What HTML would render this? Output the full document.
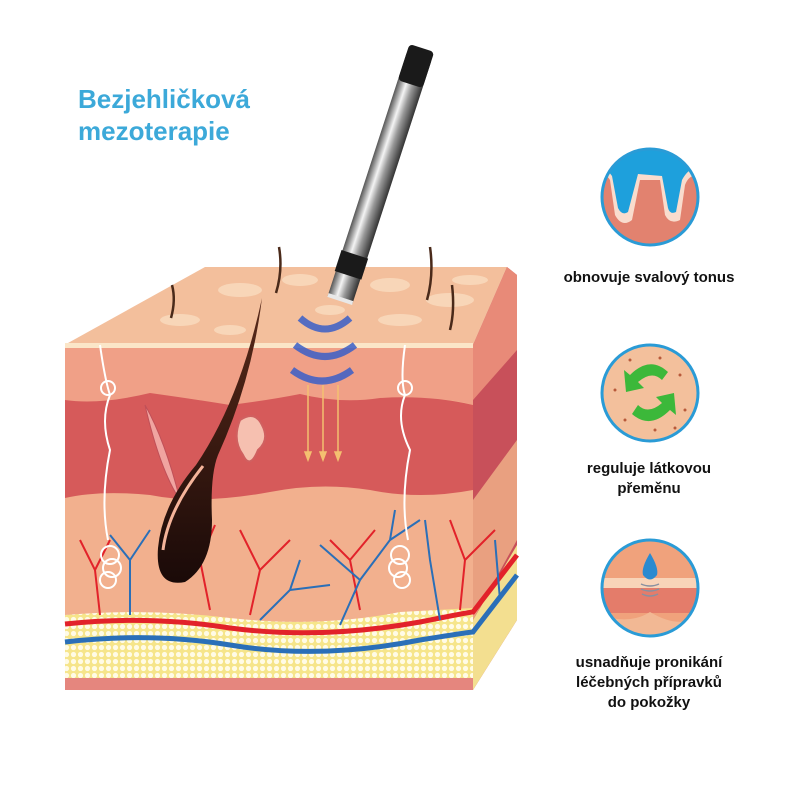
<!DOCTYPE html>
<html><head><meta charset="utf-8"><style>
html,body{margin:0;padding:0;background:#fff;width:800px;height:800px;overflow:hidden}
svg{display:block}
text{font-family:"Liberation Sans",sans-serif;font-weight:bold}
</style></head><body>
<svg width="800" height="800" viewBox="0 0 800 800" xmlns="http://www.w3.org/2000/svg">
<defs>
<pattern id="fat" width="7" height="7" patternUnits="userSpaceOnUse">
<rect width="7" height="7" fill="#f6e58a"/><circle cx="3.5" cy="3.5" r="2.6" fill="#fffbe6"/>
</pattern>
<linearGradient id="pen" x1="0" y1="0" x2="1" y2="0">
<stop offset="0" stop-color="#555"/><stop offset="0.35" stop-color="#f4f4f4"/><stop offset="0.6" stop-color="#999"/><stop offset="1" stop-color="#333"/>
</linearGradient>
<linearGradient id="hair" x1="0" y1="0" x2="0" y2="1">
<stop offset="0" stop-color="#5a2a1a"/><stop offset="1" stop-color="#1a0a08"/>
</linearGradient>
<clipPath id="c1"><circle cx="650" cy="197" r="47"/></clipPath>
<clipPath id="c2"><circle cx="650" cy="393" r="47"/></clipPath>
<clipPath id="c3"><circle cx="650" cy="588" r="47"/></clipPath>
</defs>

<text x="78" y="108" font-size="26" fill="#3ca9d9">Bezjehličková</text>
<text x="78" y="140" font-size="26" fill="#3ca9d9">mezoterapie</text>

<!-- top face -->
<polygon points="68,343 205,267 507,267 473,345" fill="#f3bf9c"/>
<g fill="#f8d6b8">
<ellipse cx="240" cy="290" rx="22" ry="7"/><ellipse cx="300" cy="280" rx="18" ry="6"/><ellipse cx="390" cy="285" rx="20" ry="7"/>
<ellipse cx="450" cy="300" rx="24" ry="7"/><ellipse cx="180" cy="320" rx="20" ry="6"/><ellipse cx="400" cy="320" rx="22" ry="6"/>
<ellipse cx="470" cy="280" rx="18" ry="5"/><ellipse cx="230" cy="330" rx="16" ry="5"/><ellipse cx="330" cy="310" rx="15" ry="5"/>
</g>
<!-- side face -->
<polygon points="473,345 507,267 517,275 517,620 473,690" fill="#c8505a"/>
<polygon points="473,345 507,267 517,275 517,350 473,400" fill="#e88a78"/>
<polygon points="473,500 517,440 517,540 473,620" fill="#e9a080"/>
<polygon points="473,620 517,545 517,620 473,690" fill="#f3df90"/>
<!-- front face -->
<rect x="65" y="345" width="408" height="345" fill="#f2b08e"/>
<path d="M65,348 L473,348 L473,405 Q440,395 400,402 Q360,408 330,400 Q300,392 270,402 Q230,412 200,400 Q150,392 100,402 Q80,405 65,400 Z" fill="#f0a087"/>
<path d="M65,400 Q100,405 150,393 Q200,400 230,405 Q270,400 300,394 Q340,404 380,398 Q430,395 473,405 L473,490 Q420,500 370,490 Q320,482 270,492 Q200,505 150,495 Q100,490 65,498 Z" fill="#d65a5a"/>
<rect x="65" y="343" width="408" height="5" fill="#fbe6c8"/>
<path d="M65,615 Q150,608 230,618 Q320,628 400,612 L473,608 L473,678 L65,678 Z" fill="url(#fat)"/>
<rect x="65" y="678" width="408" height="12" fill="#e5867e"/>
<path d="M65,624 Q150,615 230,628 Q320,640 420,622 Q470,612 473,612 L517,555" fill="none" stroke="#e2222a" stroke-width="5"/>
<path d="M65,642 Q150,632 230,645 Q320,660 420,640 Q470,632 473,632 L517,575" fill="none" stroke="#2a6fb8" stroke-width="5"/>
<!-- vessels -->
<g fill="none" stroke-width="2">
<path d="M100,615 L95,570 L80,540 M95,570 L110,540 M210,610 L200,560 L215,525 M200,560 L185,540 M250,615 L260,570 L240,530 M260,570 L290,540 M360,610 L350,560 L330,540 M350,560 L375,530 M460,610 L465,560 L450,520 M465,560 L495,530" stroke="#e2222a"/>
<path d="M130,615 L130,560 L150,530 M130,560 L110,535 M260,620 L290,590 L300,560 M290,590 L330,585 M340,625 L360,580 L320,545 M360,580 L390,540 L395,510 M390,540 L420,520 M440,620 L430,560 L425,520 M500,600 L495,540" stroke="#2a6fb8"/>
</g>
<!-- nerves -->
<g fill="none" stroke="#fff" stroke-width="2">
<path d="M100,345 Q105,380 110,395 Q100,420 110,450 Q100,500 108,540"/><circle cx="108" cy="388" r="7"/>
<circle cx="110" cy="555" r="9"/><circle cx="112" cy="568" r="9"/><circle cx="108" cy="580" r="8"/>
<path d="M405,345 Q400,380 405,395 Q395,420 410,450 Q400,500 408,540"/><circle cx="405" cy="388" r="7"/>
<circle cx="400" cy="555" r="9"/><circle cx="398" cy="568" r="9"/><circle cx="402" cy="580" r="8"/>
</g>
<!-- muscle & gland -->
<path d="M145,405 Q165,440 180,500 Q160,470 145,405 Z" fill="#f0a4a0" stroke="#c05058"/>
<path d="M240,420 Q255,410 262,425 Q270,440 258,450 Q250,470 243,455 Q232,440 240,420 Z" fill="#f6c0b0" stroke="#d06060" stroke-width="2"/>
<!-- hair follicle -->
<path d="M262,298 Q252,380 218,455 Q210,475 212,520 Q212,565 185,582 Q155,588 158,548 Q162,505 196,465 Q240,400 262,298 Z" fill="url(#hair)"/>
<path d="M163,550 Q168,510 203,466" fill="none" stroke="#f5b49a" stroke-width="3"/>
<!-- surface hairs -->
<g fill="none" stroke="#4a2a1a" stroke-width="2.5">
<path d="M172,285 Q176,300 171,318"/><path d="M279,247 Q283,270 276,293"/><path d="M430,247 Q434,275 427,300"/><path d="M452,285 Q455,310 450,330"/>
</g>
<!-- waves & arrows -->
<g fill="none" stroke="#3a5fc8" stroke-width="7" opacity="0.85">
<path d="M300,318 Q325,340 350,318"/><path d="M295,345 Q325,368 355,345"/><path d="M292,370 Q322,392 352,370"/>
</g>
<g stroke="#f4c070" stroke-width="1.5" fill="#f4c070">
<line x1="308" y1="385" x2="308" y2="455"/><line x1="323" y1="385" x2="323" y2="455"/><line x1="338" y1="385" x2="338" y2="455"/>
<polygon points="305,452 311,452 308,460"/><polygon points="320,452 326,452 323,460"/><polygon points="335,452 341,452 338,460"/>
</g>
<!-- pen -->
<g transform="translate(340,300) rotate(18)">
<rect x="-13" y="-255" width="26" height="255" fill="url(#pen)"/>
<rect x="-13" y="-265" width="26" height="38" rx="4" fill="#1a1a1a"/>
<rect x="-14" y="-48" width="28" height="22" fill="#1a1a1a"/>
<rect x="-13" y="-3" width="26" height="4" fill="#e8e8e8"/>
</g>

<!-- circle 1 -->
<g clip-path="url(#c1)">
<rect x="600" y="150" width="100" height="100" fill="#e2826f"/>
<path d="M600,150 L700,150 L700,178 Q690,172 685,185 L680,220 Q670,225 665,215 L660,180 L640,180 L632,220 Q622,228 615,215 L610,180 Q605,172 600,178 Z" fill="#f9dccd"/>
<path d="M600,150 L700,150 L700,170 Q690,165 682,180 L676,212 Q670,215 668,208 L662,176 L638,174 L628,212 Q622,216 618,208 L612,176 Q605,166 600,170 Z" fill="#1ea0dc"/>
</g>
<circle cx="650" cy="197" r="48" fill="none" stroke="#2a9bd6" stroke-width="3"/>
<!-- circle 2 -->
<g clip-path="url(#c2)"><rect x="600" y="345" width="100" height="100" fill="#f3c09c"/>
<g fill="#b85a3a"><circle cx="630" cy="360" r="1.5"/><circle cx="660" cy="358" r="1.5"/><circle cx="680" cy="375" r="1.5"/><circle cx="615" cy="390" r="1.5"/><circle cx="685" cy="410" r="1.5"/><circle cx="625" cy="420" r="1.5"/><circle cx="655" cy="430" r="1.5"/><circle cx="675" cy="428" r="1.5"/></g>
<path d="M668,372 Q650,355 630,375 L624,370 L626,392 L644,388 L638,382 Q652,370 662,380 Z" fill="#3cb83a"/>
<path d="M632,414 Q650,430 670,410 L676,415 L674,393 L656,397 L662,403 Q648,415 638,405 Z" fill="#3cb83a"/>
</g>
<circle cx="650" cy="393" r="48" fill="none" stroke="#2a9bd6" stroke-width="3"/>
<!-- circle 3 -->
<g clip-path="url(#c3)"><rect x="600" y="540" width="100" height="100" fill="#f0a27c"/>
<rect x="600" y="578" width="100" height="10" fill="#f8d4b8"/>
<rect x="600" y="588" width="100" height="25" fill="#e47c6a"/>
<path d="M600,615 Q630,625 650,612 Q680,630 700,615 L700,640 L600,640 Z" fill="#f2b894"/>
<path d="M650,553 Q641,568 643,575 Q650,584 657,575 Q659,568 650,553 Z" fill="#2a8ad0"/>
<g fill="none" stroke="#8890a0" stroke-width="1.5"><path d="M641,584 Q650,588 659,584"/><path d="M641,589 Q650,593 659,589"/><path d="M642,594 Q650,598 658,594"/></g>
</g>
<circle cx="650" cy="588" r="48" fill="none" stroke="#2a9bd6" stroke-width="3"/>

<g font-size="15" fill="#111" text-anchor="middle">
<text x="649" y="282">obnovuje svalový tonus</text>
<text x="649" y="473">reguluje látkovou</text>
<text x="649" y="493">přeměnu</text>
<text x="649" y="667">usnadňuje pronikání</text>
<text x="649" y="687">léčebných přípravků</text>
<text x="649" y="707">do pokožky</text>
</g>
</svg>
</body></html>
